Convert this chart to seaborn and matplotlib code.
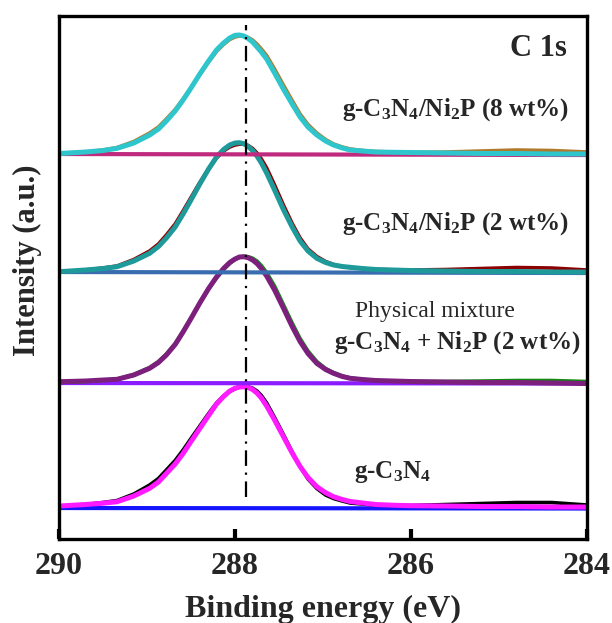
import numpy as np
import pandas as pd
import matplotlib
matplotlib.use("Agg")
import matplotlib.pyplot as plt
import seaborn as sns

# Binding energy grid (eV) shared by all traces
energy = [290.0, 289.7, 289.5, 289.34, 289.15, 288.97, 288.87, 288.78, 288.68, 288.59,
          288.5, 288.40, 288.3, 288.21, 288.13, 288.06, 288.0, 287.95, 287.9, 287.85,
          287.8, 287.75, 287.7, 287.64, 287.55, 287.45, 287.35, 287.26, 287.17, 287.07,
          286.97, 286.88, 286.78, 286.69, 286.55, 286.4, 286.2, 286.0, 285.6, 285.2,
          284.8, 284.4, 284.0]

# g-C3N4/Ni2P (8 wt%)
raw_8wt = [386, 388, 390, 392.5, 398.5, 407, 413, 421, 430.5, 441,
           452.5, 465.5, 478, 488.5, 495.5, 500.5, 503, 504, 504, 502.5,
           500, 496, 491, 484.5, 471, 455, 439.5, 426, 415.5, 407,
           400.5, 396, 393, 391, 389.5, 388.5, 388, 387.5, 388, 389,
           390, 389.5, 388]
fit_8wt = [386.5, 388, 389.5, 391.7, 397, 405, 411, 419, 429, 440,
           452, 466, 479, 490, 497, 502, 504.7, 505, 504, 501.5,
           498, 493, 488, 481, 467, 451, 436, 423, 413, 405,
           399, 395, 392, 390, 389, 388, 387.7, 387.5, 387, 386.5,
           386.5, 386, 386]
base_8wt = [386, 385]

# g-C3N4/Ni2P (2 wt%)
raw_2wt = [268, 270, 272, 274, 280.5, 289, 296, 305, 316, 329,
           342.5, 357.5, 371, 382, 389, 393, 395, 395.8, 395.8, 394.5,
           391.5, 387, 381, 372, 355, 335, 316.5, 302, 291, 283.5,
           278.5, 275.5, 273.5, 272.5, 271.5, 270.5, 270.2, 270, 270.5, 271.5,
           272.5, 272, 270]
fit_2wt = [268.3, 270, 271.5, 273.3, 279, 286.7, 293.5, 302, 313, 326,
           340, 356, 371, 383, 390.5, 395, 397, 397.3, 396.3, 393.5,
           389.5, 384, 377, 367, 350, 330.5, 313, 299, 289, 281.7,
           277.5, 275, 273.5, 272.7, 271.5, 270.5, 270, 269.5, 269, 268.5,
           268.5, 268, 268]
base_2wt = [268, 267]

# physical mixture g-C3N4 + Ni2P (2 wt%)
raw_mix = [157.5, 158.5, 159.5, 161, 165.5, 172.5, 178.5, 186, 196.5, 209,
           222, 237, 251, 262, 270.5, 276.5, 280.5, 282.8, 283.6, 283.3,
           281.8, 279, 274.5, 267.5, 254, 235.5, 217, 201.5, 189, 178.5,
           171.5, 167.5, 164, 162, 160.5, 159.5, 159, 158.5, 158.5, 159,
           159.5, 159.5, 158.5]
fit_mix = [158.3, 159, 160, 160.7, 165, 171.7, 177.5, 185, 195.5, 208,
           221.5, 237, 251.5, 263, 271.5, 277.5, 281, 283, 283.3, 282.3,
           280, 276.5, 271.5, 264, 250, 232, 213.5, 198.5, 186.5, 176.7,
           170.5, 166.7, 163.5, 161.7, 160.5, 159.5, 159, 158.5, 158, 157.5,
           157.5, 157, 156.5]
base_mix = [157, 156.5]

# g-C3N4
raw_cn = [33.5, 35.5, 37.5, 39.5, 46, 55, 61.5, 70, 79.5, 90,
          101.5, 114, 126.5, 137, 144, 148.5, 151.2, 152.8, 153.5, 153.2,
          151.8, 149, 144.5, 137, 122.5, 105.5, 88, 73.5, 61, 51.5,
          45, 41.5, 39, 37, 36, 35, 34.7, 34.5, 35.5, 36.5,
          37.5, 37.5, 35]
fit_cn = [34, 35.5, 36.8, 38.3, 44, 51.7, 58, 66.5, 76, 86.5,
          98.5, 111.5, 124.5, 136, 143.5, 149, 151.8, 153, 153.3, 152.5,
          150.5, 147, 142, 134, 120, 103.5, 87, 73.5, 62.5, 53.3,
          47.3, 43.3, 40.5, 38.5, 37, 35.5, 34.8, 34.3, 34, 33.5,
          33.5, 33, 33]
base_cn = [32, 31.5]

base_energy = [290.0, 284.0]
ref_energy = 287.87
ref_span = [43, 515]

spectra = [
    (raw_cn, fit_cn, base_cn, "black", "#ff1aff", "#1414ff"),
    (raw_mix, fit_mix, base_mix, "#128a12", "#7d1f7d", "#8a1cff"),
    (raw_2wt, fit_2wt, base_2wt, "#8b0000", "#1f9a9a", "#3a6db0"),
    (raw_8wt, fit_8wt, base_8wt, "#b07a2a", "#2ec6cc", "#c02a7e"),
]

sns.set_theme(style="white")
plt.rcParams["font.family"] = ["Liberation Serif", "DejaVu Serif"]
plt.rcParams["mathtext.fontset"] = "custom"
plt.rcParams["mathtext.rm"] = "Liberation Serif"
plt.rcParams["mathtext.bf"] = "Liberation Serif:bold"
plt.rcParams["mathtext.it"] = "Liberation Serif:italic"

fig = plt.figure(figsize=(6.12, 6.23), dpi=100)
ax = fig.add_axes([0.0964, 0.1348, 0.8627, 0.8395])

for raw, fit, base, c_raw, c_fit, c_base in spectra:
    sns.lineplot(x=base_energy, y=base, color=c_base, lw=3.0, ax=ax, estimator=None)
    sns.lineplot(x=energy, y=raw, color=c_raw, lw=2.6, ax=ax, estimator=None)
    sns.lineplot(x=energy, y=fit, color=c_fit, lw=3.6, ax=ax, estimator=None)

ax.plot([ref_energy, ref_energy], ref_span, color="black", lw=1.6,
        linestyle=(0, (7, 3, 1, 3)), zorder=5)

ax.set_xlim(290, 284)
ax.set_ylim(1, 524)
ax.set_xticks([290, 288, 286, 284])
ax.set_yticks([])
ax.xaxis.set_tick_params(which="major", bottom=True, direction="in", length=7,
                         width=3, pad=9, labelsize=23, color="black")
for lab in ax.get_xticklabels():
    lab.set_fontweight("bold")
for sp in ax.spines.values():
    sp.set_linewidth(2.4)
    sp.set_color("black")

ax.set_xlabel("Binding energy (eV)", fontsize=23, fontweight="bold", labelpad=10)
ax.set_ylabel("Intensity (a.u.)", fontsize=22, fontweight="bold")
ax.yaxis.set_label_coords(-0.032, 0.533)

ax.text(284.23, 492, "C 1s", fontsize=22, fontweight="bold", ha="right", va="center")
ax.text(285.5, 430, r"g-C$_\mathbf{3}$N$_\mathbf{4}$/Ni$_\mathbf{2}$P (8 wt%)",
        fontsize=18, fontweight="bold", ha="center", va="center")
ax.text(285.5, 316, r"g-C$_\mathbf{3}$N$_\mathbf{4}$/Ni$_\mathbf{2}$P (2 wt%)",
        fontsize=18, fontweight="bold", ha="center", va="center")
ax.text(285.73, 229, "Physical mixture", fontsize=17, ha="center", va="center")
ax.text(285.47, 197, r"g-C$_\mathbf{3}$N$_\mathbf{4}$ + Ni$_\mathbf{2}$P (2 wt%)",
        fontsize=18, fontweight="bold", ha="center", va="center")
ax.text(286.21, 68, r"g-C$_\mathbf{3}$N$_\mathbf{4}$",
        fontsize=18, fontweight="bold", ha="center", va="center")

fig.savefig("out.png", dpi=100)
